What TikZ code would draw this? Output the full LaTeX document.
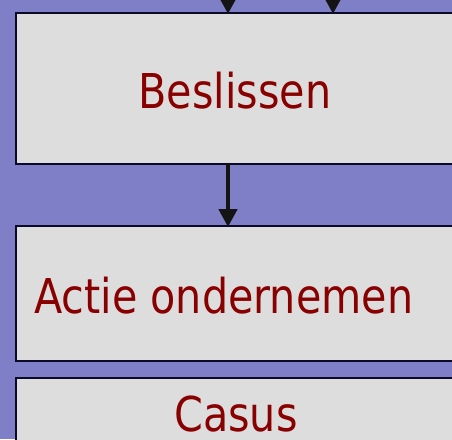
\documentclass[tikz,border=0pt]{standalone}
\usepackage{fontspec}
\setmainfont{DejaVu Sans}[FakeStretch=0.86]
\usetikzlibrary{arrows.meta}
\definecolor{bgpurple}{RGB}{127,127,200}
\definecolor{boxgrey}{RGB}{221,221,221}
\definecolor{boxline}{RGB}{10,10,40}
\definecolor{labelred}{RGB}{136,0,0}
\definecolor{arrowdark}{RGB}{20,20,20}
\tikzset{
  stepbox/.style={draw=boxline, line width=2pt, fill=boxgrey},
  boxlabel/.style={text=labelred, font=\fontsize{48}{50}\selectfont, inner sep=0pt},
  flow/.style={draw=arrowdark, line width=4.5pt, -{Triangle[width=18pt,length=18pt]}, shorten >=-1pt}
}
\begin{document}
\begin{tikzpicture}[x=1pt,y=-1pt]
  \useasboundingbox (0,0) rectangle (452,439);
  \clip (0,0) rectangle (452,439);
  \fill[bgpurple] (0,0) rectangle (452,439);
  % boxes (they run past the right and bottom edges)
  \draw[stepbox] (16,13) rectangle (456,164);
  \draw[stepbox] (16,226) rectangle (456,361);
  \draw[stepbox] (16,378) rectangle (456,470);
  \coordinate (b1top) at (228,13);
  \coordinate (b1topb) at (333,13);
  \coordinate (b1bot) at (228,164);
  \coordinate (b2top) at (228,226);
  \coordinate (in1) at (228,-40);
  \coordinate (in2) at (333,-40);
  % labels
  \node[boxlabel, anchor=base] (beslissen) at (235,108) {Beslissen};
  \node[boxlabel, anchor=base west] (actie) at (34,313) {Actie ondernemen};
  \node[boxlabel, anchor=base] (casus) at (236,431) {Casus};
  % connectors
  \draw[flow] (in1) -- (b1top);
  \draw[flow] (in2) -- (b1topb);
  \draw[flow] (b1bot) -- (b2top);
\end{tikzpicture}
\end{document}
